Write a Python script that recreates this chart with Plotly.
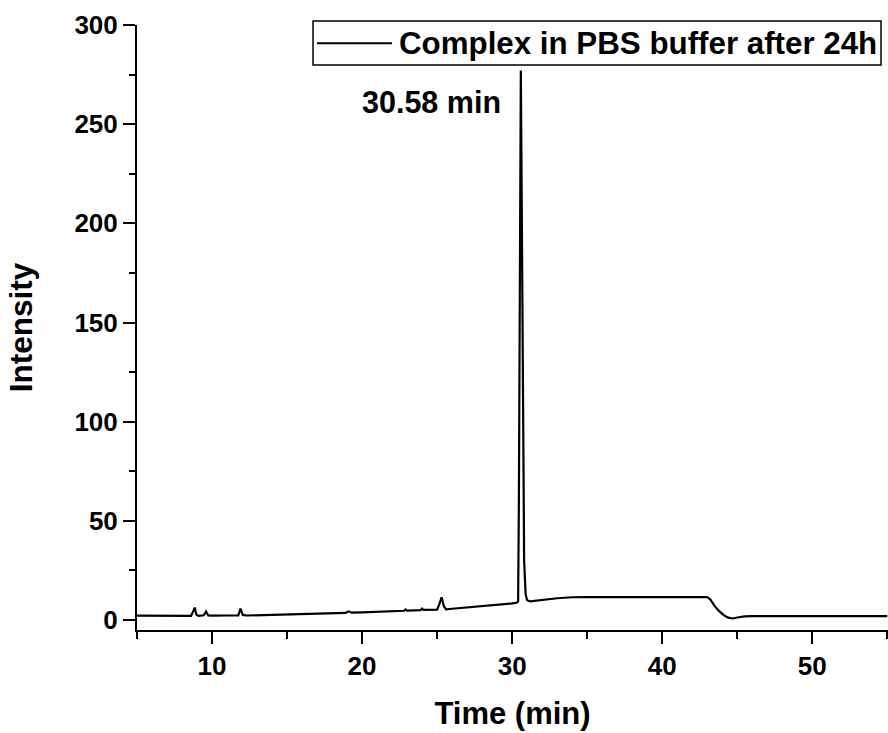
import plotly.graph_objects as go

time_min = [5.0, 6.0, 7.0, 8.0, 8.6, 8.75, 8.85, 8.95, 9.1, 9.45, 9.6, 9.75, 10.0, 11.0,
            11.75, 11.9, 12.05, 12.3, 13, 14, 15, 16, 17, 18, 18.9, 19.1, 19.3, 20, 21, 22,
            22.8, 22.9, 23.0, 23.9, 24.0, 24.1, 25.0, 25.15, 25.3, 25.45, 25.6, 26, 27, 28,
            29, 30, 30.3, 30.4, 30.45, 30.5, 30.58, 30.65, 30.72, 30.8, 30.9, 31.0, 31.2,
            32, 33, 34, 35, 40, 43.0, 43.2, 43.5, 43.8, 44.1, 44.4, 44.7, 45.0, 45.5, 46,
            50, 55]
intensity = [2.2, 2.2, 2.1, 2.1, 2.1, 4.5, 6.3, 2.8, 2.1, 2.4, 4.3, 2.3, 2.2, 2.3,
             2.4, 5.8, 2.6, 2.3, 2.4, 2.6, 2.8, 3.0, 3.2, 3.4, 3.6, 4.4, 3.8, 3.9, 4.1, 4.4,
             4.7, 5.4, 4.8, 5.0, 5.8, 5.1, 5.3, 8.0, 11.5, 7.0, 5.4, 5.7, 6.3, 7.0,
             7.7, 8.4, 8.7, 9.5, 60, 180, 277, 200, 90, 30, 13, 10, 9.4,
             10.2, 11.0, 11.5, 11.6, 11.6, 11.6, 10.5, 7.0, 4.5, 2.5, 1.2, 0.8, 1.3, 1.9, 2.0,
             2.0, 2.0]

series_name = "Complex in PBS buffer after 24h"
peak_label = "30.58 min"
peak_time = 30.58
x_ticks = [10, 20, 30, 40, 50]
y_ticks = [0, 50, 100, 150, 200, 250, 300]

FONT = "Liberation Sans, Arial, sans-serif"

fig = go.Figure()
fig.add_trace(go.Scatter(x=time_min, y=intensity, mode="lines",
                         line=dict(color="black", width=2.2), name=series_name,
                         showlegend=False))

# legend box (manual)
fig.add_shape(type="rect", xref="paper", yref="paper", x0=0.2344, x1=0.9907,
              y0=0.9339, y1=1.0066, line=dict(color="black", width=1.5),
              fillcolor="white", layer="above")
fig.add_shape(type="line", xref="paper", yref="paper", x0=0.2397, x1=0.3395,
              y0=0.970, y1=0.970, line=dict(color="black", width=2))
fig.add_annotation(xref="paper", yref="paper", x=0.3462, y=0.970, xanchor="left",
                   yanchor="middle", text=series_name, showarrow=False,
                   font=dict(family=FONT, size=31.3, color="black", weight="bold"))

fig.add_annotation(x=peak_time - 1.2, y=261, xanchor="right", yanchor="middle",
                   text=peak_label, showarrow=False,
                   font=dict(family=FONT, size=30.5, color="black", weight="bold"))

axis_common = dict(showline=True, linecolor="black", linewidth=2, ticks="outside",
                   tickwidth=2, ticklen=12, tickcolor="black", showgrid=False,
                   zeroline=False, mirror=False,
                   tickfont=dict(family=FONT, size=26, color="black", weight="bold"))

fig.update_xaxes(range=[5, 55.05], tickvals=x_ticks,
                 minor=dict(dtick=5, tick0=0, ticks="outside", ticklen=7, tickwidth=2,
                            tickcolor="black"),
                 title=dict(text="Time (min)", standoff=22,
                            font=dict(family=FONT, size=31, color="black", weight="bold")),
                 **axis_common)
fig.update_yaxes(range=[-5, 300], tickvals=y_ticks,
                 minor=dict(dtick=25, tick0=0, ticks="outside", ticklen=6, tickwidth=2,
                            tickcolor="black"),
                 title=dict(text="Intensity", standoff=32,
                            font=dict(family=FONT, size=31.5, color="black", weight="bold")),
                 **axis_common)

fig.update_layout(width=888, height=733, plot_bgcolor="white", paper_bgcolor="white",
                  margin=dict(l=137, r=0, t=25, b=103, autoexpand=False),
                  showlegend=False)

fig.write_html("out.html", config={"displayModeBar": False},
               post_script="document.body.style.margin='0';document.body.style.overflow='hidden';")
